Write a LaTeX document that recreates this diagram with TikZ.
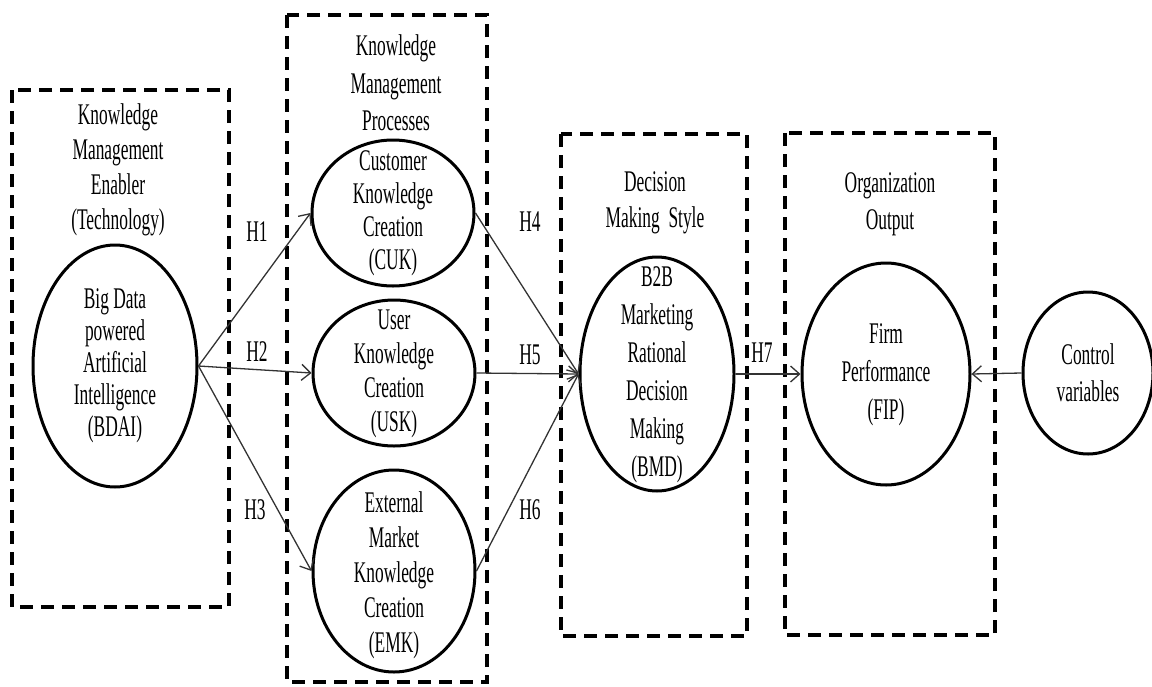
\documentclass[tikz,border=0pt]{standalone}
\usepackage{fontspec}
\setmainfont{Liberation Serif}[FakeStretch=0.58]
\usetikzlibrary{shapes.geometric,arrows.meta}
\tikzset{
  grp/.style={line width=3.5pt, dash pattern=on 13pt off 8pt},
  ell/.style={draw, ellipse, line width=3pt, inner sep=0pt},
  txt/.style={align=center, inner sep=0pt, font=\fontsize{30}{36}\selectfont},
  hl/.style={inner sep=0pt, font=\fontsize{30}{36}\selectfont},
  conn/.style={draw=black!80, line width=1.3pt, -{Straight Barb[length=9pt,width=16pt,line width=1.3pt]}}
}
\begin{document}
\begin{tikzpicture}[x=1pt,y=-1pt]
\useasboundingbox (0,0) rectangle (1152,686);
% dashed group boxes
\draw[grp] (12,90) rectangle (229,607);
\draw[grp] (287,15) rectangle (487,682);
\draw[grp] (561,134) rectangle (747,636);
\draw[grp] (785,133) rectangle (995,635);
% group titles
\node[txt, font=\fontsize{30}{35}\selectfont] (t1) at (118,170) {Knowledge\\Management\\Enabler\\(Technology)};
\node[txt, font=\fontsize{30}{37.5}\selectfont] (t2) at (396,83) {Knowledge\\Management\\Processes};
\node[txt] (t3) at (655,203) {Decision\\Making\ \ Style};
\node[txt, font=\fontsize{30}{37}\selectfont] (t4) at (890,204) {Organization\\Output};
% ellipses
\node[ell, minimum width=164pt, minimum height=242pt] (bdai) at (115,366) {};
\node[ell, minimum width=162pt, minimum height=146pt] (cuk) at (393,213) {};
\node[ell, minimum width=162pt, minimum height=146pt] (usk) at (394,373) {};
\node[ell, minimum width=162pt, minimum height=202pt] (emk) at (394,571) {};
\node[ell, minimum width=154pt, minimum height=234pt] (bmd) at (657,374) {};
\node[ell, minimum width=168pt, minimum height=222pt] (fip) at (886,374) {};
\node[ell, minimum width=130pt, minimum height=162pt] (ctrl) at (1088,373) {};
% ellipse texts
\node[txt, font=\fontsize{30}{32}\selectfont] (bdait) at (bdai) {Big Data\\powered\\Artificial\\Intelligence\\(BDAI)};
\node[txt, font=\fontsize{30}{33}\selectfont] (cukt) at (393,213) {Customer\\Knowledge\\Creation\\(CUK)};
\node[txt, font=\fontsize{30}{34}\selectfont] (uskt) at (394,374) {User\\Knowledge\\Creation\\(USK)};
\node[txt, font=\fontsize{30}{35}\selectfont] (emkt) at (394,575) {External\\Market\\Knowledge\\Creation\\(EMK)};
\node[txt, font=\fontsize{30}{38}\selectfont] (bmdt) at (657,375) {B2B\\Marketing\\Rational\\Decision\\Making\\(BMD)};
\node[txt, font=\fontsize{30}{38}\selectfont] (fipt) at (886,375) {Firm\\Performance\\(FIP)};
\node[txt, font=\fontsize{30}{37}\selectfont] (ctrlt) at (1088,373) {Control\\variables};
% connectors
\draw[conn] (bdai.east) -- (cuk.west);
\draw[conn] (bdai.east) -- (usk.west);
\draw[conn] (bdai.east) -- (emk.west);
\draw[conn] (cuk.east) -- (bmd.west);
\draw[conn] (usk.east) -- (bmd.west);
\draw[conn] (emk.east) -- (bmd.west);
\draw[conn] (bmd.east) -- (fip.west);
\draw[conn] (ctrl.west) -- (fip.east);
% hypothesis labels
\node[hl] (h1) at (257,232) {H1};
\node[hl] (h2) at (257,352) {H2};
\node[hl] (h3) at (255,510) {H3};
\node[hl] (h4) at (530,222) {H4};
\node[hl] (h5) at (530,355) {H5};
\node[hl] (h6) at (530,510) {H6};
\node[hl] (h7) at (762,353) {H7};
\end{tikzpicture}
\end{document}
